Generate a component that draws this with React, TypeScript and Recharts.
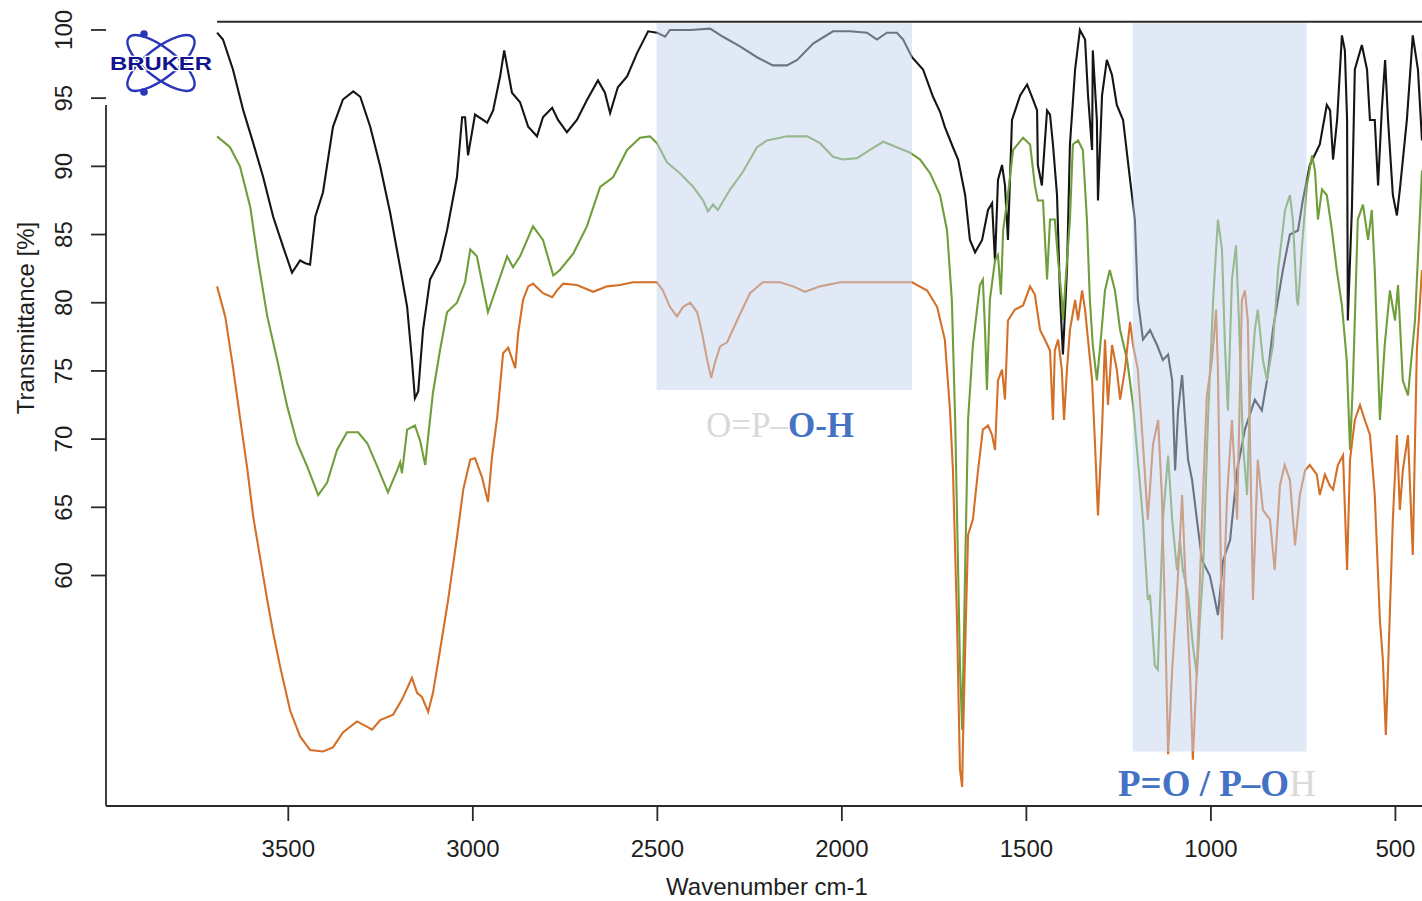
import React from 'react';
import { LineChart, Line, XAxis, YAxis, ReferenceArea, ReferenceLine } from 'recharts';

const xTicks = [3500, 3000, 2500, 2000, 1500, 1000, 500];
const yTicks = [60, 65, 70, 75, 80, 85, 90, 95, 100];
const xDomain: [number, number] = [428, 3994];
const yDomain: [number, number] = [43.1, 100.73];

const blackWn = [3693,3677,3650,3622,3595,3568,3541,3514,3490,3468,3454,3441,3427,3406,3379,3352,3324,3305,3278,3251,3224,3197,3178,3165,3157,3148,3135,3116,3089,3070,3043,3029,3021,3013,2994,2961,2945,2926,2915,2894,2872,2850,2826,2810,2785,2769,2745,2718,2690,2661,2642,2628,2607,2582,2555,2525,2501,2479,2466,2411,2357,2322,2276,2230,2187,2149,2121,2078,2024,1978,1932,1905,1878,1851,1834,1810,1780,1753,1734,1721,1699,1685,1666,1653,1639,1620,1604,1593,1585,1577,1566,1558,1550,1539,1517,1498,1482,1471,1469,1458,1444,1436,1428,1417,1409,1401,1390,1382,1368,1355,1341,1333,1322,1320,1309,1306,1295,1282,1268,1255,1238,1219,1206,1198,1184,1165,1146,1130,1116,1105,1097,1089,1078,1070,1062,1051,1038,1024,1003,989,981,967,948,929,908,881,862,848,832,805,786,764,751,732,705,686,677,669,658,645,637,631,629,618,610,591,577,569,556,547,537,528,520,507,496,488,469,453,439,428];
const blackT = [99.8,99.3,97.1,94.1,91.7,89.2,86.3,84.1,82.2,83.1,82.9,82.8,86.3,88.1,92.9,94.9,95.5,95.1,92.9,90.0,86.6,82.6,79.7,75.8,73.0,73.5,78.0,81.7,83.1,85.3,89.2,93.6,93.6,90.8,93.8,93.2,94.1,96.6,98.5,95.4,94.7,92.9,92.2,93.6,94.3,93.4,92.5,93.4,94.9,96.3,95.4,93.9,95.8,96.6,98.3,99.9,99.8,99.5,100.0,100.0,100.1,99.5,98.8,98.0,97.4,97.4,97.8,99.0,99.9,99.9,99.8,99.3,99.8,99.8,99.3,98.0,97.1,95.1,94.0,92.9,91.4,90.5,87.9,84.6,83.7,84.6,86.8,87.3,83.0,89.0,90.1,88.6,84.6,93.4,95.2,96.0,94.9,94.1,90.1,88.6,94.1,93.8,91.6,87.9,80.6,76.2,82.4,91.6,97.1,100.0,99.3,95.2,91.2,98.5,93.4,87.5,95.2,97.8,96.7,94.5,93.4,89.0,86.1,80.2,77.3,78.0,76.9,75.8,76.2,74.3,67.7,72.1,74.7,71.4,68.5,67.0,64.1,61.1,60.0,58.2,57.1,61.1,62.6,67.7,70.7,72.9,72.1,74.3,78.0,82.4,85.0,85.3,87.5,90.1,91.6,94.5,94.1,90.5,93.4,99.6,98.5,93.4,78.7,86.8,97.1,98.9,97.1,93.4,93.4,88.6,94.1,97.8,93.4,87.9,86.4,88.3,93.4,99.6,97.1,91.9];

const greenWn = [3693,3658,3631,3603,3582,3557,3530,3503,3476,3449,3419,3395,3368,3341,3311,3286,3259,3230,3205,3197,3192,3178,3157,3143,3129,3121,3108,3089,3070,3043,3021,3007,2989,2959,2945,2907,2891,2872,2837,2810,2782,2764,2728,2691,2655,2620,2582,2547,2520,2501,2474,2439,2403,2376,2363,2349,2336,2303,2268,2230,2203,2149,2094,2059,2024,1997,1959,1924,1888,1851,1815,1788,1761,1734,1715,1702,1693,1685,1680,1674,1666,1658,1645,1626,1618,1612,1607,1599,1585,1577,1569,1563,1550,1536,1509,1490,1477,1469,1455,1444,1436,1423,1414,1404,1401,1390,1382,1374,1360,1347,1336,1328,1320,1309,1301,1287,1274,1260,1246,1227,1211,1198,1184,1171,1165,1152,1144,1130,1116,1105,1092,1084,1076,1062,1049,1038,1030,1021,1008,994,981,970,962,954,943,932,924,913,902,894,881,873,859,848,832,818,799,786,778,767,764,753,740,726,718,710,699,686,672,659,645,632,623,615,602,588,574,564,556,542,529,515,501,493,480,466,447,428];
const greenT = [92.2,91.4,90.0,87.0,83.1,79.0,75.8,72.4,69.7,68.0,65.9,66.8,69.2,70.5,70.5,69.7,68.0,66.1,67.7,68.3,67.5,70.7,71.0,69.9,68.1,70.2,73.4,76.5,79.3,80.0,81.5,83.9,83.4,79.3,80.4,83.4,82.6,83.4,85.6,84.6,82.0,82.4,83.6,85.6,88.5,89.2,91.2,92.1,92.2,91.7,90.3,89.5,88.5,87.5,86.7,87.2,86.8,88.3,89.6,91.4,91.9,92.2,92.2,91.7,90.7,90.5,90.6,91.2,91.8,91.4,91.0,90.5,89.5,87.9,85.3,80.2,71.4,60.4,53.4,48.7,60.4,71.4,76.9,81.3,81.7,78.0,73.6,80.2,83.1,83.5,80.6,85.3,87.9,91.2,92.1,91.6,88.6,87.5,87.5,81.7,86.1,86.1,83.1,80.2,78.7,83.1,86.1,91.6,91.9,91.2,86.1,80.2,76.9,74.3,76.5,80.9,82.4,80.9,78.0,75.8,72.5,68.5,64.1,58.2,58.6,53.4,53.1,64.1,68.8,64.1,60.4,62.6,60.4,58.6,54.9,52.7,56.7,60.4,71.4,80.2,86.1,83.9,76.9,72.1,81.7,84.2,78.7,69.6,65.9,73.2,78.0,79.5,75.8,74.3,76.9,82.4,86.8,87.9,86.1,80.2,79.8,84.2,88.6,90.8,89.7,86.1,88.3,87.9,85.3,82.4,79.8,75.8,69.2,74.3,86.1,87.2,84.6,86.8,82.4,71.4,76.9,80.9,78.7,81.3,74.3,73.2,78.7,89.7];

const orangeWn = [3693,3671,3650,3631,3612,3595,3577,3557,3541,3522,3495,3468,3441,3406,3379,3352,3314,3286,3273,3251,3216,3192,3165,3151,3138,3121,3108,3089,3067,3043,3026,3007,2994,2975,2959,2948,2934,2918,2904,2885,2877,2864,2850,2837,2810,2785,2772,2755,2718,2674,2636,2601,2566,2520,2501,2485,2466,2447,2430,2411,2392,2379,2365,2354,2344,2330,2311,2284,2249,2214,2168,2132,2100,2059,2005,1959,1870,1810,1769,1742,1721,1707,1699,1688,1680,1674,1672,1664,1658,1645,1631,1618,1604,1593,1585,1577,1566,1558,1550,1531,1509,1490,1477,1463,1450,1436,1428,1423,1414,1404,1398,1390,1382,1368,1360,1349,1341,1333,1322,1314,1306,1295,1287,1279,1268,1255,1246,1233,1219,1211,1198,1184,1171,1157,1143,1133,1124,1116,1105,1092,1078,1070,1057,1049,1038,1024,1011,997,986,981,970,956,943,929,916,908,900,886,873,859,840,827,813,800,786,772,759,745,732,713,705,691,678,669,656,642,631,623,610,596,583,569,556,542,534,526,520,507,496,488,480,466,453,442,428];
const orangeT = [81.2,79.0,75.3,71.6,68.0,64.3,61.4,58.2,55.8,53.3,50.1,48.2,47.2,47.1,47.4,48.5,49.3,48.9,48.7,49.4,49.8,50.9,52.5,51.4,51.1,50.0,51.4,54.5,58.2,62.8,66.3,68.5,68.6,67.2,65.4,68.7,71.6,76.3,76.7,75.2,77.8,80.2,81.2,81.4,80.7,80.4,80.9,81.4,81.3,80.8,81.2,81.3,81.5,81.5,81.5,80.9,79.7,79.0,79.7,80.0,79.3,77.8,75.8,74.5,75.6,76.8,77.1,78.7,80.7,81.5,81.5,81.2,80.8,81.2,81.5,81.5,81.5,81.5,80.9,79.7,77.3,72.1,67.7,56.7,45.8,44.5,47.6,56.7,63.0,64.1,67.7,70.7,71.0,70.3,69.2,74.3,75.1,72.9,78.7,79.5,79.8,81.2,80.6,78.0,77.3,76.5,71.4,76.5,77.3,75.1,71.4,75.1,78.0,80.2,78.7,80.9,79.5,77.3,74.3,69.6,64.4,70.7,77.3,72.5,76.9,75.1,72.9,75.1,78.6,76.9,75.1,69.6,64.1,69.6,71.4,65.9,56.7,46.9,53.1,58.6,65.9,60.4,53.1,46.5,53.1,64.1,73.2,75.8,79.5,75.1,55.3,65.9,71.4,64.1,80.2,80.9,78.7,58.2,68.5,64.8,64.1,60.4,66.6,68.1,67.0,62.2,65.9,67.7,68.1,67.4,65.9,67.4,66.6,66.3,68.1,68.8,60.4,68.5,71.4,72.5,71.4,70.3,65.9,56.7,53.8,48.3,53.1,64.1,70.3,64.8,67.7,70.3,61.5,76.5,82.4];

// Highlighted bands (wavenumber range, transmittance range)
const ohBandWn = [1810, 2502];
const ohBandT = [73.6, 100.5];
const poBandWn = [741, 1212];
const poBandT = [47.1, 100.5];

const toPoints = (wn: number[], t: number[]) => wn.map((w, i) => ({ wn: w, t: t[i] }));
const blackData = toPoints(blackWn, blackT);
const greenData = toPoints(greenWn, greenT);
const orangeData = toPoints(orangeWn, orangeT);

const FONT = '"Liberation Sans", Arial, Helvetica, sans-serif';
const SERIF = '"Liberation Serif", "DejaVu Serif", serif';
const AXIS = '#2a2a2a';

const XTick = (props: any) => {
  const { x, y, payload } = props;
  return (
    <text x={x} y={y + 34} textAnchor="middle" fontFamily={FONT} fontSize={24} fill="#1e1e1e">
      {payload.value}
    </text>
  );
};

const YTick = (props: any) => {
  const { x, y, payload } = props;
  return (
    <text transform={`translate(${x - 17},${y}) rotate(-90)`} textAnchor="middle" fontFamily={FONT} fontSize={24} fill="#1e1e1e">
      {payload.value}
    </text>
  );
};

export default function App() {
  return (
    <div style={{ position: 'absolute', left: 0, top: 0, width: 1422, height: 901, background: '#fff' }}>
      <LineChart width={1422} height={901} margin={{ top: 20, right: 0, bottom: 0, left: 0 }}>
        <XAxis
          type="number"
          dataKey="wn"
          domain={xDomain}
          reversed
          allowDataOverflow
          ticks={xTicks}
          interval={0}
          tick={<XTick />}
          tickSize={15}
          height={95}
          axisLine={{ stroke: AXIS, strokeWidth: 1.8 }}
          tickLine={{ stroke: AXIS, strokeWidth: 1.8 }}
        />
        <YAxis
          type="number"
          dataKey="t"
          domain={yDomain}
          allowDataOverflow
          ticks={yTicks}
          interval={0}
          tick={<YTick />}
          tickSize={15}
          width={106}
          axisLine={false}
          tickLine={{ stroke: AXIS, strokeWidth: 1.8 }}
        />
        <ReferenceLine
          segment={[{ x: 3994, y: 43.11 }, { x: 3994, y: 94.5 }]}
          stroke={AXIS}
          strokeWidth={1.8}
          ifOverflow="visible"
        />
        <ReferenceLine
          segment={[{ x: 3693, y: 100.6 }, { x: 428, y: 100.6 }]}
          stroke={AXIS}
          strokeWidth={1.8}
          ifOverflow="visible"
        />
        <Line data={blackData} dataKey="t" type="linear" stroke="#151515" strokeWidth={2.1} dot={false} activeDot={false} isAnimationActive={false} />
        <Line data={greenData} dataKey="t" type="linear" stroke="#6f9e3a" strokeWidth={2.1} dot={false} activeDot={false} isAnimationActive={false} />
        <Line data={orangeData} dataKey="t" type="linear" stroke="#d46f28" strokeWidth={2.1} dot={false} activeDot={false} isAnimationActive={false} />
        <ReferenceArea
          x1={ohBandWn[0]}
          x2={ohBandWn[1]}
          y1={ohBandT[0]}
          y2={ohBandT[1]}
          fill="#c4d4ee"
          fillOpacity={0.5}
          stroke="none"
          ifOverflow="visible"
          zIndex={450}
        />
        <ReferenceArea
          x1={poBandWn[0]}
          x2={poBandWn[1]}
          y1={poBandT[0]}
          y2={poBandT[1]}
          fill="#c4d4ee"
          fillOpacity={0.5}
          stroke="none"
          ifOverflow="visible"
          zIndex={450}
        />
      </LineChart>
      <svg width={1422} height={901} style={{ position: 'absolute', left: 0, top: 0, pointerEvents: 'none' }}>
        <g>
          <ellipse cx={161} cy={63} rx={41} ry={15} transform="rotate(38 161 63)" fill="none" stroke="#2a36b8" strokeWidth={2.4} />
          <ellipse cx={161} cy={63} rx={41} ry={15} transform="rotate(-38 161 63)" fill="none" stroke="#2a36b8" strokeWidth={2.4} />
          <circle cx={144} cy={34} r={3.8} fill="#2a36b8" />
          <circle cx={144} cy={92} r={3.8} fill="#2a36b8" />
          <text x={110} y={70} fontFamily={FONT} fontWeight="bold" fontSize={18} fill="#12128c" stroke="#fff" strokeWidth={2.5} paintOrder="stroke" textLength={102} lengthAdjust="spacingAndGlyphs">BRUKER</text>
        </g>
        <text x={767} y={895} textAnchor="middle" fontFamily={FONT} fontSize={24} fill="#1e1e1e">Wavenumber cm-1</text>
        <text transform="translate(34,318) rotate(-90)" textAnchor="middle" fontFamily={FONT} fontSize={24} fill="#1e1e1e">Transmittance [%]</text>
        <text x={706} y={437} fontFamily={SERIF} fontSize={35}>
          <tspan fill="#d9d9d9">O=P–</tspan>
          <tspan fill="#4472c4" fontWeight="bold">O-H</tspan>
        </text>
        <text x={1118} y={796} fontFamily={SERIF} fontSize={37}>
          <tspan fill="#4472c4" fontWeight="bold">P=O / P–O</tspan>
          <tspan fill="#d9d9d9">H</tspan>
        </text>
      </svg>
    </div>
  );
}
